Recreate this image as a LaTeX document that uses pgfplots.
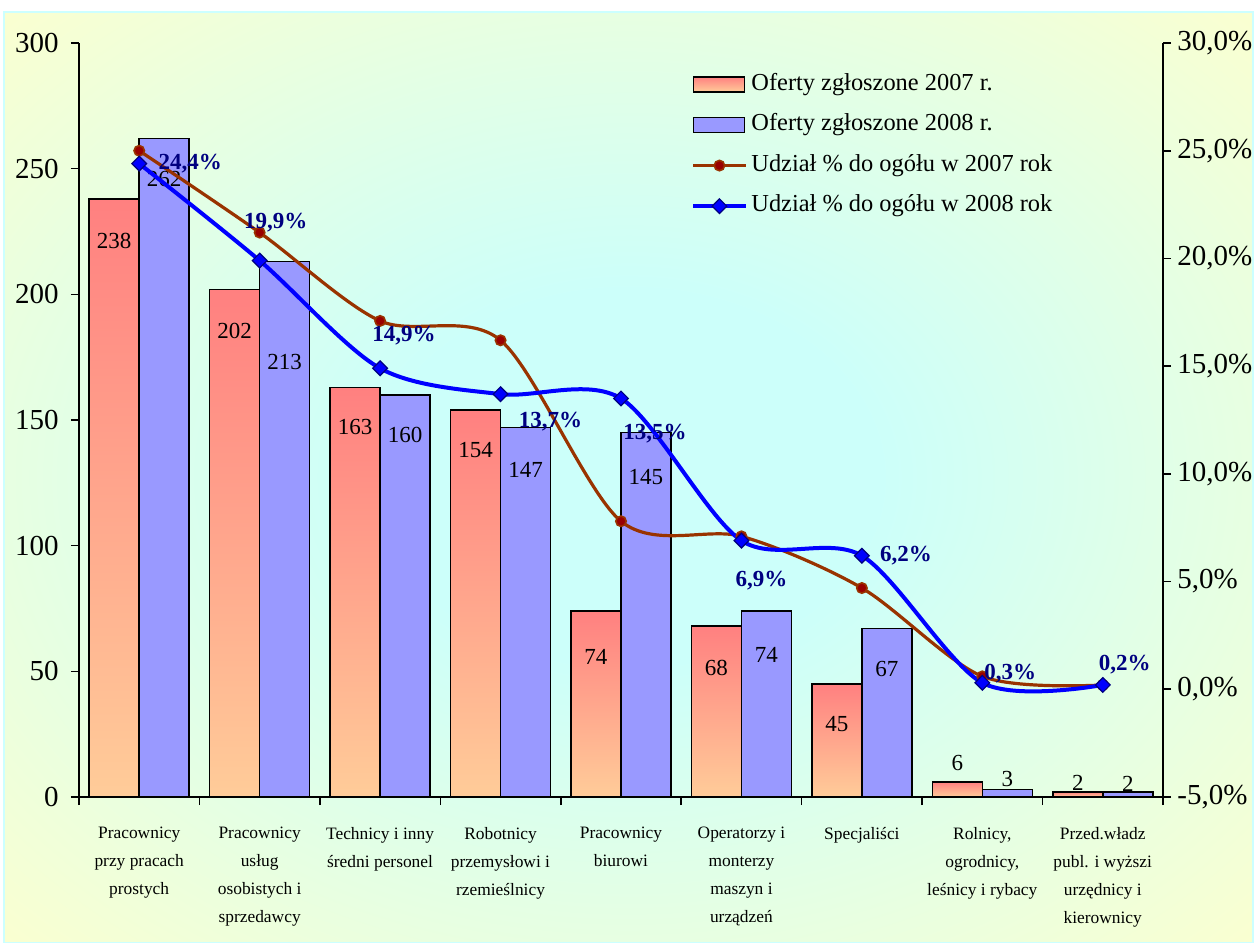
\documentclass[border=0pt]{standalone}
\usepackage{pgfplots}
\pgfplotsset{compat=1.18}
\usepackage{pgfplotstable}
\usepackage{fontspec}
\setmainfont{Liberation Serif}

\definecolor{bgyellow}{RGB}{255,255,204}
\definecolor{bgcyan}{RGB}{204,255,250}
\definecolor{framec}{RGB}{204,255,255}
\definecolor{barAtop}{RGB}{255,128,128}
\definecolor{barAbot}{RGB}{255,204,153}
\definecolor{barB}{RGB}{153,153,255}
\definecolor{lineA}{RGB}{153,51,0}
\definecolor{markA}{RGB}{153,0,0}
\definecolor{lineB}{RGB}{0,0,255}
\definecolor{navy}{RGB}{0,0,128}

\pgfdeclareradialshading{bgsh}{\pgfpoint{0bp}{0bp}}{color(0bp)=(bgcyan); color(10bp)=(bgcyan); color(38bp)=(bgyellow); color(100bp)=(bgyellow)}

\begin{document}

% oferty 2007: x, value, label offset (pt)
\pgfplotstableread{
x y dy
0 238 -21
1 202 -21
2 163 -20
3 154 -20
4 74 -23
5 68 -21
6 45 -20
7 6 9.5
8 2 4.5
}\ofA

% oferty 2008
\pgfplotstableread{
x y dy
0 262 -20
1 213 -50
2 160 -20
3 147 -21
4 145 -22
5 74 -22
6 67 -20
7 3 5
8 2 4
}\ofB

% udzial % 2007
\pgfplotstableread{
x y
0 25.0
1 21.2
2 17.1
3 16.2
4 7.8
5 7.1
6 4.7
7 0.6
8 0.2
}\udA

% udzial % 2008 with label offsets (pt)
\pgfplotstableread{
x y dx dy
0 24.4 25.5 0
1 19.9 8 19
2 14.9 12 16.5
3 13.7 25 -13.5
4 13.5 17 -17.5
5 6.9 10 -20
6 6.2 22 0
7 0.3 14 4.5
8 0.2 11 10
}\udB

\begin{tikzpicture}
\fill[white] (-39.5pt,-73pt) rectangle (588pt,398.5pt);
\path[shading=bgsh, draw=framec, line width=0.8pt] (-37.5pt,-73pt) rectangle (587pt,392.5pt);

\begin{axis}[
  at={(0,0)}, anchor=south west,
  scale only axis, width=542pt, height=377pt,
  xmin=-0.5, xmax=8.5, ymin=0, ymax=300,
  ytick={0,50,...,300},
  xtick={-0.5,0.5,...,8.5},
  xticklabels={
    {Pracownicy\\przy pracach\\prostych},
    {Pracownicy\\usług\\osobistych i\\sprzedawcy},
    {Technicy i inny\\średni personel},
    {Robotnicy\\przemysłowi i\\rzemieślnicy},
    {Pracownicy\\biurowi},
    {Operatorzy i\\monterzy\\maszyn i\\urządzeń},
    {Specjaliści},
    {Rolnicy,\\ogrodnicy,\\leśnicy i rybacy},
    {Przed.władz\\publ. i wyższi\\urzędnicy i\\kierownicy},
    {}},
  xticklabel style={xshift=30.1pt, anchor=north, align=center, inner sep=0pt, yshift=-11pt,
    font=\fontsize{8.7}{14}\selectfont},
  axis x line*=bottom, axis y line*=left,
  axis line style={-, line width=0.8pt},
  tick align=outside, major tick length=4pt,
  tick style={black, line width=0.8pt},
  yticklabel style={font=\fontsize{14.5}{16}\selectfont, inner sep=0pt, xshift=-6pt},
  /pgf/number format/assume math mode=true,
  ybar, bar width=25pt,
  point meta=y,
]
% each 2007 bar drawn on its own so that each gets its own gradient
\pgfplotsinvokeforeach{0,...,8}{
\addplot[ybar, bar shift=-12.5pt, draw=black, line width=0.8pt,
  top color=barAtop, bottom color=barAbot,
  restrict x to domain=#1:#1,
  visualization depends on={\thisrow{dy} \as \dy},
  nodes near coords,
  every node near coord/.append style={anchor=center, yshift=\dy pt,
    font=\fontsize{11.5}{13}\selectfont, text=black}]
  table[x=x, y=y] {\ofA};
}
\addplot[ybar, bar shift=12.5pt, draw=black, line width=0.8pt, fill=barB,
  visualization depends on={\thisrow{dy} \as \dy},
  nodes near coords,
  every node near coord/.append style={anchor=center, yshift=\dy pt,
    font=\fontsize{11.5}{13}\selectfont, text=black}]
  table[x=x, y=y] {\ofB};
\end{axis}

\begin{axis}[
  at={(0,0)}, anchor=south west,
  scale only axis, width=542pt, height=377pt,
  xmin=-0.5, xmax=8.5, ymin=-5, ymax=30,
  ytick={-5,0,...,30},
  axis x line=none, axis y line*=right,
  axis line style={-, line width=0.8pt},
  tick align=outside, major tick length=4pt,
  tick style={black, line width=0.8pt},
  /pgf/number format/assume math mode=true,
  yticklabel={\pgfmathprintnumber[fixed,fixed zerofill,precision=1,use comma]{\tick}\%},
  yticklabel style={font=\fontsize{14.5}{16}\selectfont, inner sep=0pt, xshift=3pt},
  legend image code/.code={\draw[mark repeat=2,mark phase=2,#1] plot coordinates {(0pt,0pt) (13pt,0pt) (26pt,0pt)};},
  legend style={at={(0.5646,0.96)}, anchor=north west, draw=none, fill=none,
    inner sep=0pt, row sep=9.5pt, column sep=2pt,
    font=\fontsize{12.2}{14}\selectfont,
    nodes={inner sep=0pt, text height=8.3pt, text depth=2.5pt, anchor=west}},
  legend cell align=left,
]
\addlegendimage{legend image code/.code={\draw[top color=barAtop, bottom color=barAbot, draw=black, line width=0.8pt] (0pt,-3.75pt) rectangle (25.5pt,3.75pt);}}
\addlegendentry{Oferty zgłoszone 2007 r.}
\addlegendimage{legend image code/.code={\draw[fill=barB, draw=black, line width=0.8pt] (0pt,-3.75pt) rectangle (25.5pt,3.75pt);}}
\addlegendentry{Oferty zgłoszone 2008 r.}

\addplot[lineA, line width=1.6pt, smooth, mark=*, mark size=2.6pt,
  mark options={fill=markA, draw=lineA, line width=0.8pt}]
  table[x=x, y=y] {\udA};
\addlegendentry{Udział \% do ogółu w 2007 rok}

\addplot[lineB, line width=2pt, smooth, mark=square*, mark size=2.6pt,
  mark options={fill=lineB, draw=navy, line width=0.6pt, rotate=45},
  point meta=y,
  visualization depends on={\thisrow{dx} \as \dx},
  visualization depends on={\thisrow{dy} \as \dy},
  nodes near coords={\pgfmathprintnumber[fixed,fixed zerofill,precision=1,use comma]{\pgfplotspointmeta}\%},
  every node near coord/.append style={anchor=center, xshift=\dx pt, yshift=\dy pt,
    font=\bfseries\fontsize{11.5}{13}\selectfont, text=navy}]
  table[x=x, y=y] {\udB};
\addlegendentry{Udział \% do ogółu w 2008 rok}
\end{axis}

\pgfresetboundingbox
\useasboundingbox (-39.5pt,-73pt) rectangle (588pt,398.5pt);
\end{tikzpicture}
\end{document}
